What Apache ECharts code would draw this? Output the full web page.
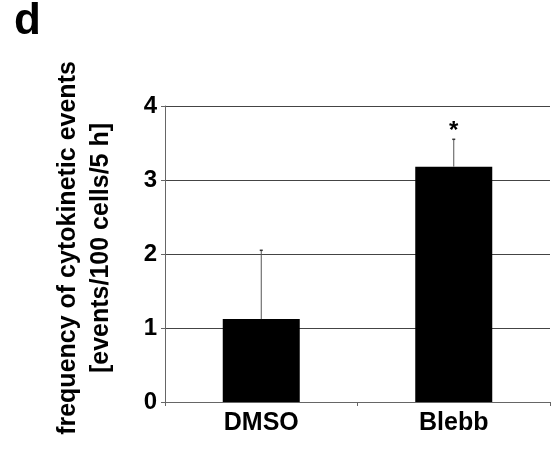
<!DOCTYPE html>
<html>
<head>
<meta charset="utf-8">
<script src="https://cdn.jsdelivr.net/npm/echarts@6/dist/echarts.min.js"></script>
<style>
html,body{margin:0;padding:0;background:#fff;}
#chart{width:551px;height:463px;}
</style>
</head>
<body>
<div id="chart"></div>
<script>
var categories = ['DMSO', 'Blebb'];
var means = [1.12, 3.18];
var errUpper = [0.93, 0.37];
var marks = ['', '*'];
var yTicks = [0, 1, 2, 3, 4];
var panelLabel = 'd';
var yTitle = ['frequency of cytokinetic events', '[events/100 cells/5 h]'];

var font = 'Liberation Sans, Arial, Helvetica, sans-serif';
var chart = echarts.init(document.getElementById('chart'), null, {renderer: 'canvas'});

var errData = categories.map(function (c, i) { return [i, means[i], means[i] + errUpper[i], marks[i]]; });

chart.setOption({
  animation: false,
  backgroundColor: '#fff',
  grid: {left: 165, top: 106, right: 1, bottom: 61, containLabel: false},
  graphic: [
    {type: 'text', left: 14, top: 0, style: {text: panelLabel, font: 'bold 44px ' + font, fill: '#000'}},
    {type: 'text', x: 85, y: 248, rotation: Math.PI / 2,
     style: {text: yTitle.join('\n'), font: 'bold 25px ' + font, fill: '#000', align: 'center', verticalAlign: 'middle', lineHeight: 33}}
  ],
  xAxis: {
    type: 'category', data: categories,
    axisLine: {lineStyle: {color: '#666', width: 1}},
    axisTick: {show: true, length: 4, lineStyle: {color: '#666'}},
    axisLabel: {color: '#000', fontFamily: font, fontWeight: 'bold', fontSize: 25, margin: 9}
  },
  yAxis: {
    type: 'value', min: yTicks[0], max: yTicks[yTicks.length - 1], interval: 1,
    axisLine: {show: true, lineStyle: {color: '#666', width: 1}},
    axisTick: {show: true, length: 4, lineStyle: {color: '#666'}},
    axisLabel: {color: '#000', fontFamily: font, fontWeight: 'bold', fontSize: 24, margin: 8},
    splitLine: {show: true, lineStyle: {color: '#444', width: 1}}
  },
  series: [
    {type: 'bar', data: means, barWidth: '40%', itemStyle: {color: '#000'}, z: 2},
    {type: 'custom', data: errData, z: 3,
     renderItem: function (params, api) {
       var x = api.value(0);
       var p0 = api.coord([x, api.value(1)]);
       var p1 = api.coord([x, api.value(2)]);
       var children = [
         {type: 'line', shape: {x1: p0[0], y1: p0[1], x2: p1[0], y2: p1[1]}, style: {stroke: '#555', lineWidth: 1}},
         {type: 'line', shape: {x1: p1[0] - 1.5, y1: p1[1], x2: p1[0] + 1.5, y2: p1[1]}, style: {stroke: '#333', lineWidth: 1.5}}
       ];
       var m = api.value(3);
       if (m) {
         children.push({type: 'text', x: p1[0], y: p1[1] + 4,
           style: {text: m, font: 'bold 24px ' + font, fill: '#000', align: 'center', verticalAlign: 'bottom'}});
       }
       return {type: 'group', children: children};
     }}
  ]
});
</script>
</body>
</html>
